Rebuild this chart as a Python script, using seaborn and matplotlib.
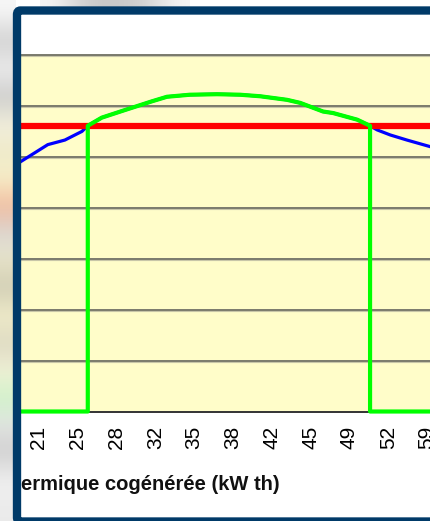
import numpy as np
import pandas as pd
import matplotlib.pyplot as plt
import seaborn as sns
from matplotlib.patches import FancyBboxPatch

# --- data ---
# category axis: tick labels (kW th), one every tick position 0..10
tick_labels = ['21', '25', '28', '32', '35', '38', '42', '45', '49', '52', '59']
tick_pos = list(range(len(tick_labels)))

# full curve (blue), x in tick positions, y in gridline units
curve_x = [-0.46, 0.23, 0.67, 1.11, 1.26, 1.62, 2.22, 2.91, 3.30, 3.89, 4.59,
           5.18, 5.70, 6.39, 6.73, 7.32, 7.58, 8.20, 8.53, 8.71, 9.05, 9.48, 10.08, 10.46]
curve_y = [4.91, 5.24, 5.33, 5.50, 5.61, 5.77, 5.92, 6.09, 6.18, 6.22, 6.23,
           6.22, 6.19, 6.12, 6.06, 5.89, 5.86, 5.73, 5.61, 5.53, 5.43, 5.33, 5.20, 5.12]

# threshold (red) and the two crossing points
threshold = 5.61
cross_left = 1.26
cross_right = 8.53

# green series: 0 outside the crossing points, curve between them
green_x = [-0.46, cross_left] + [x for x in curve_x if cross_left <= x <= cross_right] + [cross_right, 10.46]
green_y = [0, 0] + [y for x, y in zip(curve_x, curve_y) if cross_left <= x <= cross_right] + [0, 0]

df_curve = pd.DataFrame({'x': curve_x, 'y': curve_y})
df_green = pd.DataFrame({'x': green_x, 'y': green_y})
df_red = pd.DataFrame({'x': [-0.46, 10.46], 'y': [threshold, threshold]})

plt.rcParams['font.family'] = ['Liberation Sans', 'DejaVu Sans']

W, H = 431, 521
fig = plt.figure(figsize=(W / 100, H / 100), dpi=100)
fig.patch.set_facecolor('white')

# blurred background on the left and top (another window behind)
bg = fig.add_axes([0, 0, 1, 1], zorder=-3)
bg.axis('off')
strip = np.array([
    [0.97, 0.97, 0.97], [0.80, 0.80, 0.80], [0.95, 0.95, 0.95], [0.78, 0.78, 0.78],
    [0.96, 0.95, 0.88], [0.93, 0.91, 0.78], [0.97, 0.95, 0.80], [0.95, 0.72, 0.60],
    [0.85, 0.85, 0.85], [0.92, 0.90, 0.78], [0.80, 0.79, 0.70], [0.96, 0.94, 0.80],
    [0.85, 0.84, 0.75], [0.96, 0.95, 0.85], [0.80, 0.95, 0.78], [0.90, 0.90, 0.90],
    [0.80, 0.80, 0.80], [0.95, 0.95, 0.95], [0.92, 0.92, 0.92]])
bg.imshow(strip[:, None, :], extent=[0, 16, H, 0], aspect='auto', interpolation='bicubic')
top_blur = np.array([[0.96, 0.96, 0.96], [0.80, 0.80, 0.80], [0.78, 0.78, 0.78],
                     [0.82, 0.82, 0.82], [0.96, 0.96, 0.96]])
bg.imshow(top_blur[None, :, :], extent=[40, 190, 7, 0], aspect='auto', interpolation='bicubic')
bg.set_xlim(0, W)
bg.set_ylim(H, 0)

# white window with dark blue frame (continues past the right edge)
box = (17 / W, 1 - 521.5 / H, 500 / W, 511 / H)
face = FancyBboxPatch(box[:2], box[2], box[3], boxstyle='round,pad=0,rounding_size=0.008',
                      transform=fig.transFigure, facecolor='white', edgecolor='none', zorder=-2)
fig.patches.append(face)
edge = FancyBboxPatch(box[:2], box[2], box[3], boxstyle='round,pad=0,rounding_size=0.008',
                      transform=fig.transFigure, facecolor='none', edgecolor='#003A68',
                      linewidth=6, zorder=5)
fig.patches.append(edge)

left, right, top, bottom = 21, 445, 55, 411.5
ax = fig.add_axes([left / W, 1 - bottom / H, (right - left) / W, (bottom - top) / H], zorder=1)
ax.set_facecolor('#FFFDC9')

for k in range(1, 8):
    ax.axhline(k, color='#7a7a6c', lw=1.4, zorder=1)
    ax.axhline(k - 0.02, color='#c8c6a8', lw=0.8, zorder=0.9)

sns.lineplot(data=df_curve, x='x', y='y', ax=ax, color='#0000FF', lw=2.3,
             sort=False, estimator=None, zorder=3)
sns.lineplot(data=df_red, x='x', y='y', ax=ax, color='#FF0000', lw=4.5,
             sort=False, estimator=None, zorder=4)
sns.lineplot(data=df_green, x='x', y='y', ax=ax, color='#00FF00', lw=3.0,
             sort=False, estimator=None, zorder=5, clip_on=False)

ax.set_xlim(-0.46, 10.46)
ax.set_ylim(0, 7)
ax.set_xticks(tick_pos)
ax.set_xticklabels(tick_labels, rotation=90, fontsize=15)
ax.set_yticks([])
ax.tick_params(axis='x', length=0, pad=10)
ax.set_xlabel('')
ax.set_ylabel('')
for s in ['left', 'right']:
    ax.spines[s].set_visible(False)
ax.spines['top'].set_color('#7a7a6c')
ax.spines['top'].set_linewidth(1.4)
ax.spines['bottom'].set_color('#333333')
ax.spines['bottom'].set_linewidth(1.4)

fig.text(21 / W, 1 - 485 / H, 'ermique cogénérée (kW th)', fontsize=14.5,
         fontweight='bold', ha='left', va='center', color='#111111')

fig.savefig('out.png', dpi=100)
